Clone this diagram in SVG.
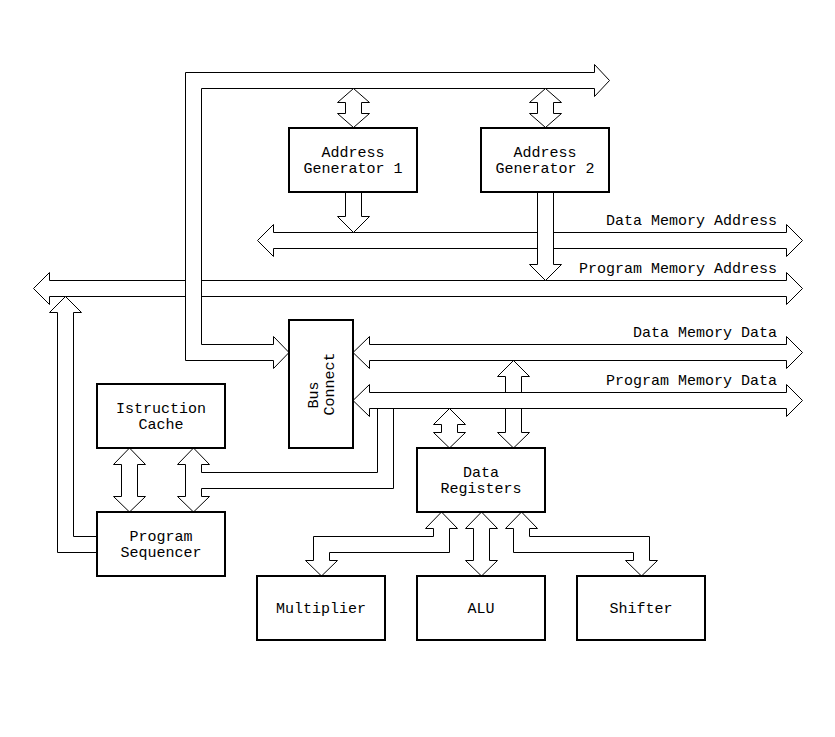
<svg xmlns="http://www.w3.org/2000/svg" width="835" height="737" viewBox="0 0 835 737">
<style>
.bg{fill:#fff}
.box{fill:#fff;stroke:#000;stroke-width:2}
.bus{fill:#fff;stroke:#000;stroke-width:1;stroke-linejoin:miter}
.t{font-family:"Liberation Mono","Courier New",monospace;font-size:15px;fill:#000;text-anchor:middle}
.lbl{font-family:"Liberation Mono","Courier New",monospace;font-size:15px;fill:#000;text-anchor:end}
</style>
<rect class="bg" x="0" y="0" width="835" height="737"/>
<g id="connectors">
  <!-- Program Memory Address bus -->
  <polygon class="bus" points="33.5,288.5 49.5,272.5 49.5,280.5 786.5,280.5 786.5,272.5 802.5,288.5 786.5,304.5 786.5,296.5 49.5,296.5 49.5,304.5"/>
  <!-- Bus connect to top bus -->
  <polygon class="bus" points="273.5,360.5 185.5,360.5 185.5,72.5 594.5,72.5 594.5,64.5 609.5,80.5 594.5,96.5 594.5,88.5 201.5,88.5 201.5,344.5 273.5,344.5 273.5,336.5 289,352.5 273.5,368.5"/>
  <!-- Data Memory Address bus -->
  <polygon class="bus" points="257.5,240.5 273.5,224.5 273.5,232.5 786.5,232.5 786.5,224.5 802.5,240.5 786.5,256.5 786.5,248.5 273.5,248.5 273.5,256.5"/>
  <!-- AG1 double arrow -->
  <polygon class="bus" points="353.5,88.5 369.5,102.5 361.5,102.5 361.5,113.5 369.5,113.5 353.5,127.5 337.5,113.5 345.5,113.5 345.5,102.5 337.5,102.5"/>
  <!-- AG2 double arrow -->
  <polygon class="bus" points="545.5,88.5 561.5,102.5 553.5,102.5 553.5,113.5 561.5,113.5 545.5,127.5 529.5,113.5 537.5,113.5 537.5,102.5 529.5,102.5"/>
  <!-- AG1 to DMA -->
  <polygon class="bus" points="345.5,192 345.5,216.5 337.5,216.5 353.5,232.5 369.5,216.5 361.5,216.5 361.5,192"/>
  <!-- AG2 to PMA -->
  <polygon class="bus" points="537.5,192 537.5,264.5 529.5,264.5 545.5,280.5 561.5,264.5 553.5,264.5 553.5,192"/>
  <!-- Program Sequencer to PMA -->
  <polygon class="bus" points="97,552.5 57.5,552.5 57.5,312.5 49.5,312.5 65.5,296.5 81.5,312.5 73.5,312.5 73.5,536.5 97,536.5"/>
  <!-- DMD to Data Registers -->
  <polygon class="bus" points="513.5,360.5 529.5,376.5 521.5,376.5 521.5,432.5 529.5,432.5 513.5,448 497.5,432.5 505.5,432.5 505.5,376.5 497.5,376.5"/>
  <!-- Cache / Sequencer / PMD T arrow -->
  <polygon class="bus" points="193.5,448 209.5,464.5 201.5,464.5 201.5,472.5 377.5,472.5 377.5,408.5 393.5,408.5 393.5,488.5 201.5,488.5 201.5,496.5 209.5,496.5 193.5,512 177.5,496.5 185.5,496.5 185.5,464.5 177.5,464.5"/>
  <!-- Program Memory Data bus -->
  <polygon class="bus" points="353,400.5 369.5,384.5 369.5,392.5 786.5,392.5 786.5,384.5 802.5,400.5 786.5,416.5 786.5,408.5 369.5,408.5 369.5,416.5"/>
  <!-- Data Memory Data bus -->
  <polygon class="bus" points="353,352.5 369.5,336.5 369.5,344.5 786.5,344.5 786.5,336.5 802.5,352.5 786.5,368.5 786.5,360.5 369.5,360.5 369.5,368.5"/>
  <!-- Cache <-> Sequencer -->
  <polygon class="bus" points="129.5,448 145.5,464.5 137.5,464.5 137.5,496.5 145.5,496.5 129.5,512 113.5,496.5 121.5,496.5 121.5,464.5 113.5,464.5"/>
  <!-- PMD <-> Data Registers -->
  <polygon class="bus" points="449.5,408.5 465.5,424.5 457.5,424.5 457.5,432.5 465.5,432.5 449.5,448 433.5,432.5 441.5,432.5 441.5,424.5 433.5,424.5"/>
  <!-- Data Registers <-> Multiplier -->
  <polygon class="bus" points="441.5,512 457.5,528.5 449.5,528.5 449.5,552.5 329.5,552.5 329.5,560.5 337.5,560.5 321.5,576 305.5,560.5 313.5,560.5 313.5,536.5 433.5,536.5 433.5,528.5 425.5,528.5"/>
  <!-- Data Registers <-> ALU -->
  <polygon class="bus" points="481.5,512 497.5,528.5 489.5,528.5 489.5,560.5 497.5,560.5 481.5,576 465.5,560.5 473.5,560.5 473.5,528.5 465.5,528.5"/>
  <!-- Data Registers <-> Shifter -->
  <polygon class="bus" points="521.5,512 537.5,528.5 529.5,528.5 529.5,536.5 649.5,536.5 649.5,560.5 657.5,560.5 641.5,576 625.5,560.5 633.5,560.5 633.5,552.5 513.5,552.5 513.5,528.5 505.5,528.5"/>
  <text class="lbl" x="777" y="225">Data Memory Address</text>
  <text class="lbl" x="777" y="273">Program Memory Address</text>
  <text class="lbl" x="777" y="337">Data Memory Data</text>
  <text class="lbl" x="777" y="385">Program Memory Data</text>
</g>
<g id="address-generator-1">
  <rect class="box" x="289" y="128" width="128" height="64"/>
  <text class="t" x="353" y="157">Address</text>
  <text class="t" x="353" y="173">Generator 1</text>
</g>
<g id="address-generator-2">
  <rect class="box" x="481" y="128" width="128" height="64"/>
  <text class="t" x="545" y="157">Address</text>
  <text class="t" x="545" y="173">Generator 2</text>
</g>
<g id="bus-connect">
  <rect class="box" x="289" y="320" width="64" height="128"/>
  <text class="t" transform="translate(318,395) rotate(-90)">Bus</text>
  <text class="t" transform="translate(334,384) rotate(-90)">Connect</text>
</g>
<g id="instruction-cache">
  <rect class="box" x="97" y="384" width="128" height="64"/>
  <text class="t" x="161" y="413">Istruction</text>
  <text class="t" x="161" y="429">Cache</text>
</g>
<g id="program-sequencer">
  <rect class="box" x="97" y="512" width="128" height="64"/>
  <text class="t" x="161" y="541">Program</text>
  <text class="t" x="161" y="557">Sequencer</text>
</g>
<g id="data-registers">
  <rect class="box" x="417" y="448" width="128" height="64"/>
  <text class="t" x="481" y="477">Data</text>
  <text class="t" x="481" y="493">Registers</text>
</g>
<g id="multiplier">
  <rect class="box" x="257" y="576" width="128" height="64"/>
  <text class="t" x="321" y="613">Multiplier</text>
</g>
<g id="alu">
  <rect class="box" x="417" y="576" width="128" height="64"/>
  <text class="t" x="481" y="613">ALU</text>
</g>
<g id="shifter">
  <rect class="box" x="577" y="576" width="128" height="64"/>
  <text class="t" x="641" y="613">Shifter</text>
</g>
</svg>
